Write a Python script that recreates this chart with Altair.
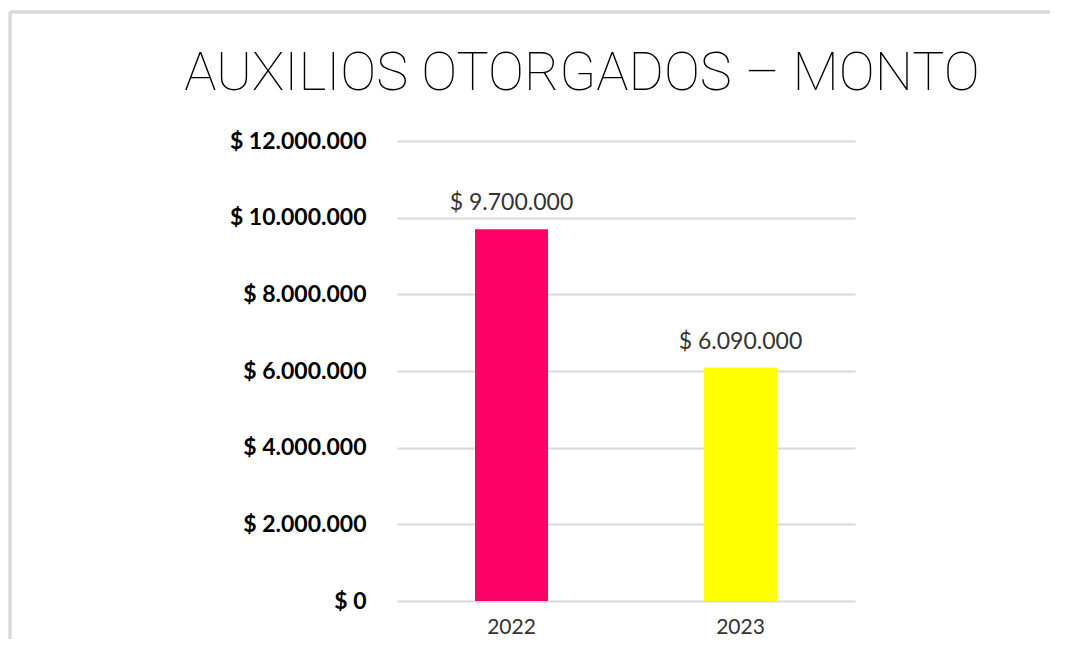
import altair as alt
import pandas as pd

years = ["2022", "2023"]
amounts = [9700000, 6090000]
colors = ["#FF0066", "#FFFF00"]
labels = ["$ 9.700.000", "$ 6.090.000"]
y_ticks = [0, 2000000, 4000000, 6000000, 8000000, 10000000, 12000000]
title_text = "AUXILIOS OTORGADOS – MONTO"

df = pd.DataFrame({"year": years, "amount": amounts, "label": labels, "color": colors})
tdf = pd.DataFrame({"t": [title_text]})

W, H = 458, 460
PAD_L, PAD_T = 389, 133

x = alt.X("year:N", title=None,
          scale=alt.Scale(paddingInner=0.68, paddingOuter=0.34),
          axis=alt.Axis(labelAngle=0, labelFont="Lato", labelFontSize=21, labelColor="#333333",
                        labelPadding=15, ticks=False, domain=False, grid=False))
y = alt.Y("amount:Q", title=None,
          scale=alt.Scale(domain=[0, 12000000], nice=False),
          axis=alt.Axis(values=y_ticks,
                        labelExpr="'$ ' + (datum.value == 0 ? '0' : replace(format(datum.value, ',.0f'), /,/g, '.'))",
                        labelFont="Lato", labelFontSize=23, labelFontWeight="bold", labelColor="#000000",
                        labelPadding=31, ticks=False, domain=False,
                        gridColor="#d9d9d9", gridWidth=2))

bars = alt.Chart(df).mark_bar(size=73).encode(
    x=x, y=y,
    color=alt.Color("color:N", scale=None),
)
text = alt.Chart(df).mark_text(font="Lato", fontSize=23, color="#333333", dy=-26).encode(
    x="year:N", y="amount:Q", text="label:N"
)

title = alt.Chart(tdf).mark_text(font="Roboto", fontWeight=100, fontSize=54, color="#000000",
                                 align="center", baseline="alphabetic").encode(
    x=alt.value(582 - 8 - PAD_L), y=alt.value(90 - 8 - PAD_T), text="t:N"
)

frame_top = alt.Chart(df).mark_rule(color="#d9d9d9", strokeWidth=3).encode(
    x=alt.value(2 - PAD_L), x2=alt.value(1050 - PAD_L), y=alt.value(4 - PAD_T)
)
frame_left = alt.Chart(df).mark_rule(color="#d9d9d9", strokeWidth=3).encode(
    x=alt.value(2 - PAD_L), y=alt.value(4 - PAD_T), y2=alt.value(647 - PAD_T)
)

chart = alt.layer(frame_top, frame_left, title, bars, text).properties(
    width=W, height=H,
    background="white",
    autosize=alt.AutoSizeParams(type="none"),
    padding={"left": PAD_L, "top": PAD_T, "right": 195, "bottom": 38},
).configure_view(stroke="transparent", strokeWidth=0)

chart.save("out.html", embed_options={"renderer": "svg", "actions": False})
